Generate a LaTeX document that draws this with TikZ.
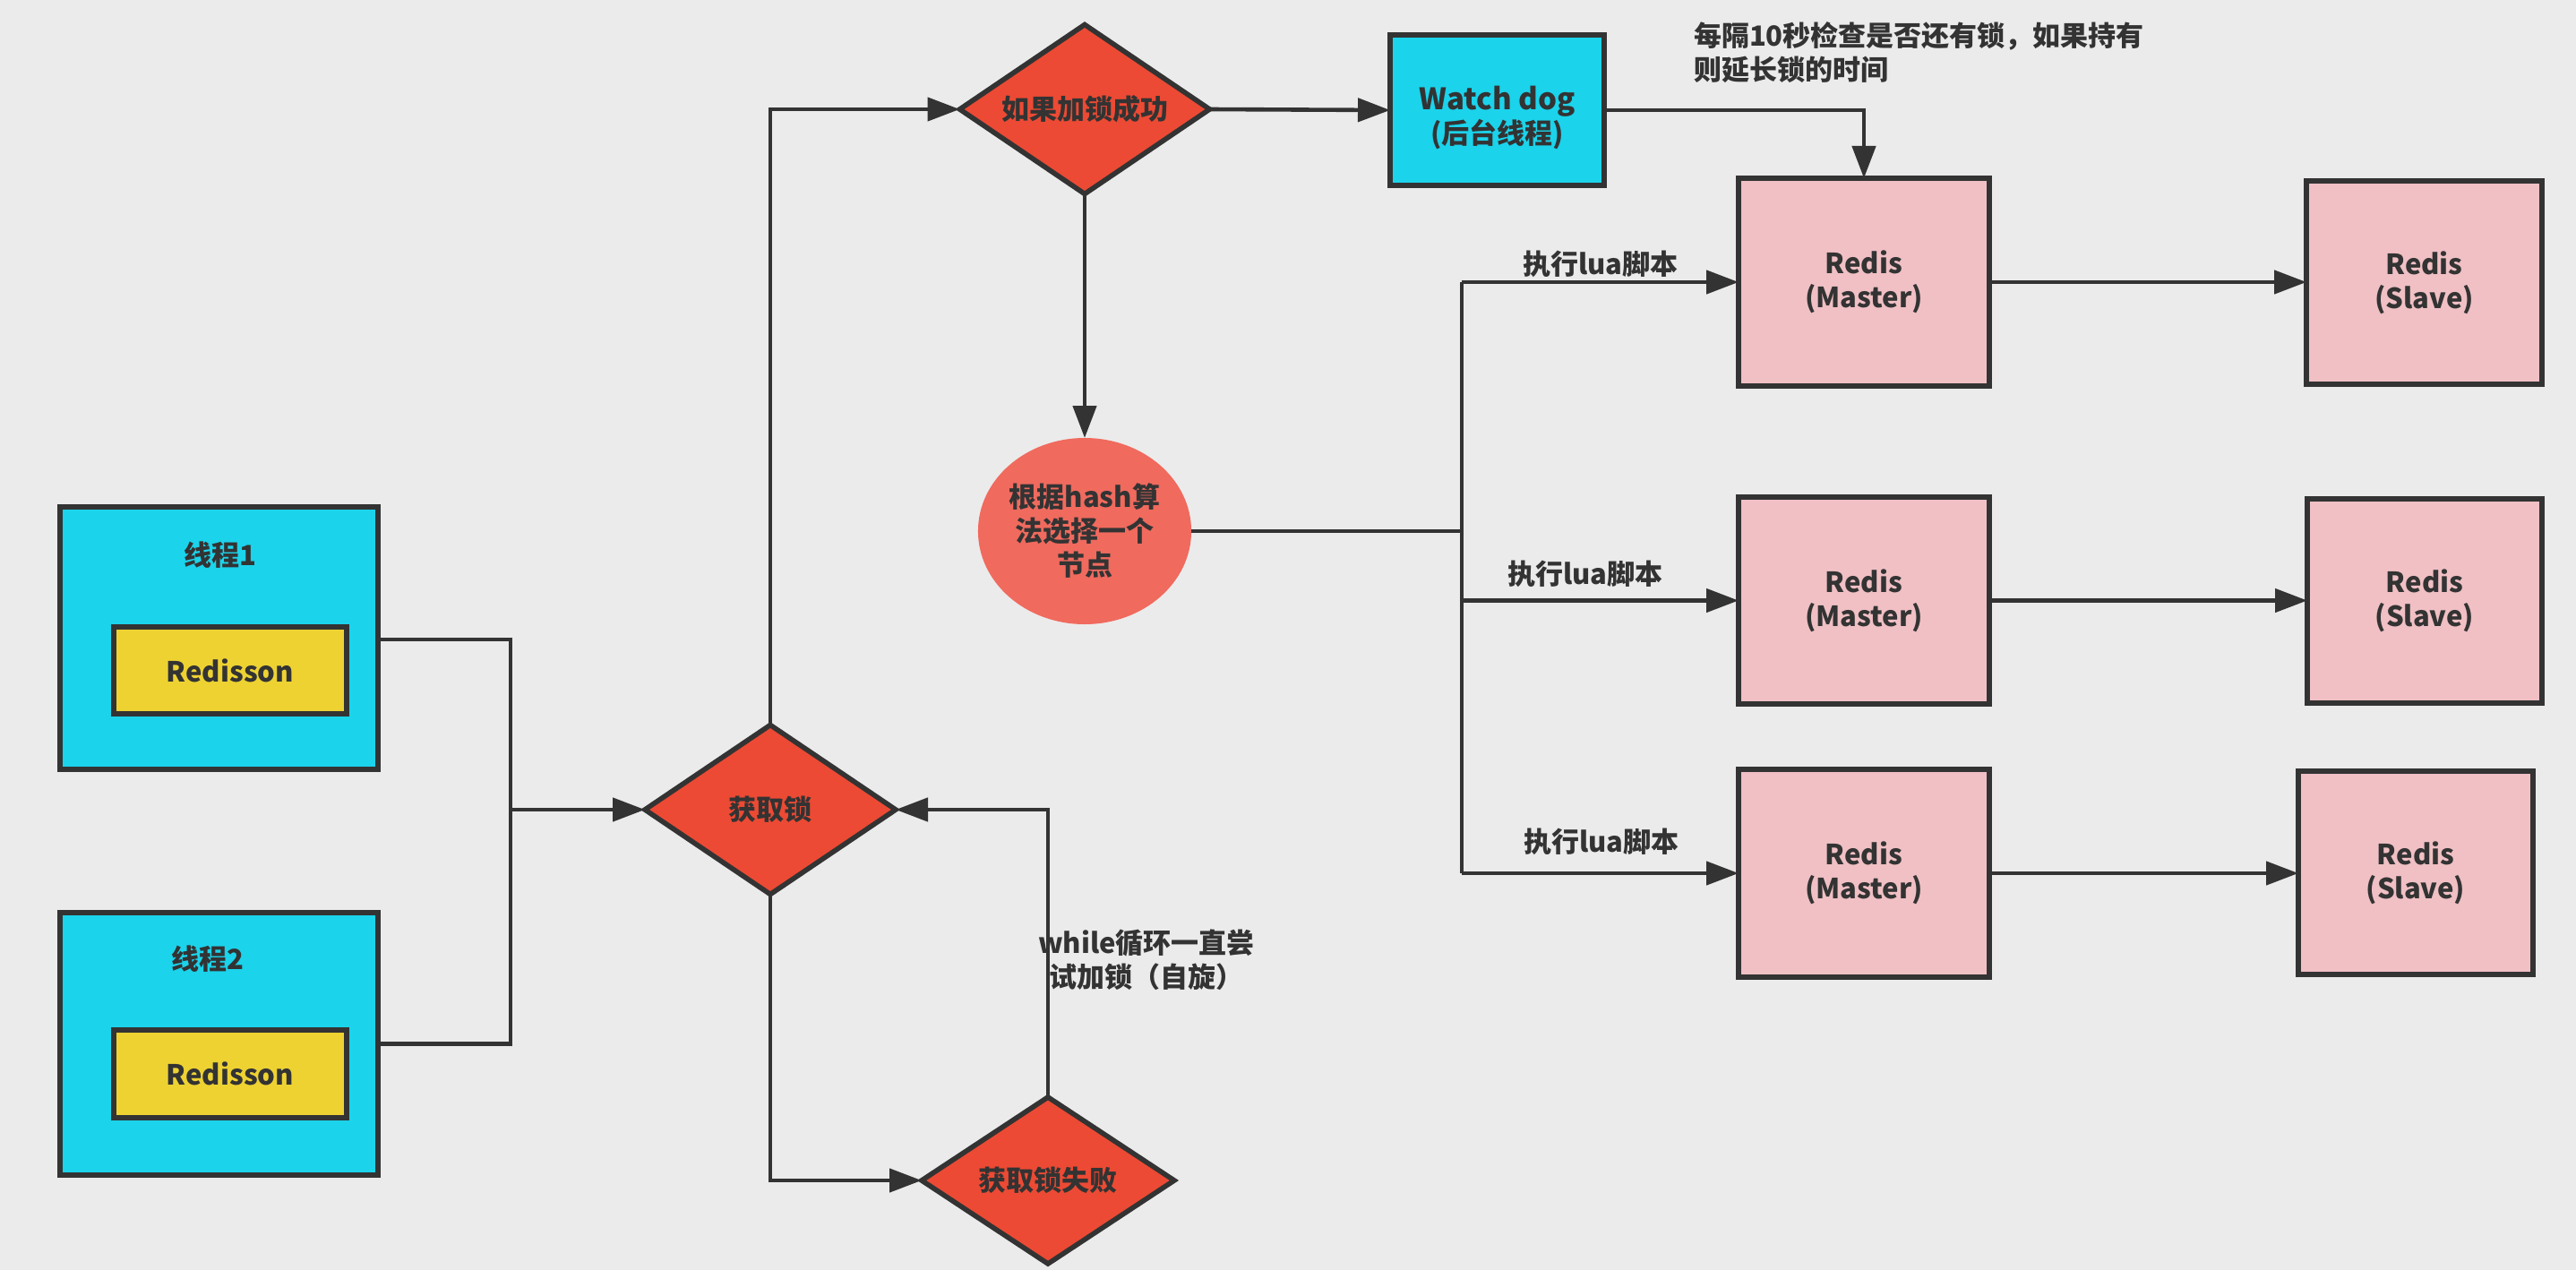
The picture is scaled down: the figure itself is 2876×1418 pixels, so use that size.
\documentclass[tikz,border=0pt]{standalone}
\usepackage{fontspec}
\setmainfont{Noto Sans CJK SC}
\usetikzlibrary{shapes.geometric,arrows.meta}
\definecolor{bgc}{HTML}{EBEBEB}
\definecolor{cyanc}{HTML}{1BD3EB}
\definecolor{yelc}{HTML}{EDD232}
\definecolor{redc}{HTML}{EC4A34}
\definecolor{circc}{HTML}{F06A5E}
\definecolor{pinkc}{HTML}{F0C0C4}
\definecolor{linec}{HTML}{333333}
\definecolor{txtc}{HTML}{333333}
\tikzset{
  base/.style={font=\fontsize{15.5pt}{19pt}\selectfont\bfseries, text=txtc, inner sep=0pt, outer sep=0pt, align=center},
  box/.style={base, rectangle, draw=linec, line width=2.8pt},
  thread/.style={box, fill=cyanc},
  lib/.style={box, fill=yelc},
  dia/.style={base, diamond, shape aspect=1.48, draw=linec, line width=2.8pt, fill=redc},
  redis/.style={box, fill=pinkc},
  hashc/.style={base, ellipse, fill=circc},
  lbl/.style={base},
  conn/.style={draw=linec, line width=2.3pt},
  arr/.style={conn, -{Triangle[length=18pt,width=13pt]}},
}
\begin{document}
\begin{tikzpicture}[x=0.5pt,y=-0.5pt]
\fill[bgc] (0,0) rectangle (2876,1418);
\useasboundingbox (0,0) rectangle (2876,1418);

% threads
\node[thread, minimum width=177.5pt, minimum height=146.5pt] (t1) at (244.5,712.5) {};
\node[lib, minimum width=130pt, minimum height=48.5pt] (r1) at (257,748.5) {Redisson};
\node[lbl] (l1) at (246,620) {线程1};
\node[thread, minimum width=177.5pt, minimum height=146.5pt] (t2) at (244.5,1165.5) {};
\node[lib, minimum width=130pt, minimum height=49pt] (r2) at (257,1199) {Redisson};
\node[lbl] (l2) at (232,1071) {线程2};

% diamonds
\node[dia, minimum width=140pt, minimum height=94.5pt] (get) at (860,904) {获取锁};
\node[dia, minimum width=139.5pt, minimum height=94.5pt] (ok) at (1211,122) {如果加锁成功};
\node[dia, minimum width=141pt, minimum height=93pt] (fail) at (1170,1318) {获取锁失败};

% watch dog
\node[box, fill=cyanc, minimum width=119.5pt, minimum height=84pt] (wd) at (1671.5,123) {};
\node[lbl] (wdt) at (1671.5,131) {\fontsize{16.5pt}{19pt}\selectfont Watch dog\\(后台线程)};
\node[lbl, anchor=west, align=left] (note) at (1891,59) {每隔10秒检查是否还有锁，如果持有\\则延长锁的时间};

% hash circle
\node[hashc, minimum width=114pt, minimum height=104pt] (hash) at (1211,593) {根据hash算\\法选择一个\\节点};

% redis
\node[redis, minimum width=140pt, minimum height=116pt] (m1) at (2081,315) {Redis\\(Master)};
\node[redis, minimum width=140pt, minimum height=115.5pt] (m2) at (2081,670.5) {Redis\\(Master)};
\node[redis, minimum width=140pt, minimum height=116pt] (m3) at (2081,975) {Redis\\(Master)};
\node[redis, minimum width=131.5pt, minimum height=113.5pt] (s1) at (2706.5,315.5) {Redis\\(Slave)};
\node[redis, minimum width=131pt, minimum height=114pt] (s2) at (2707,671) {Redis\\(Slave)};
\node[redis, minimum width=131pt, minimum height=113.5pt] (s3) at (2697,974.5) {Redis\\(Slave)};

% coordinates
\coordinate (jn) at (570,904);
\coordinate (bus1) at (1632,315);
\coordinate (bus2) at (1632,670.5);
\coordinate (bus3) at (1632,975);
\coordinate (busm) at (1632,593);

% connectors
\draw[conn] (t1.east |- 0,714) -| (jn);
\draw[conn] (t2.east) -| (jn);
\draw[arr] (jn) -- (get.west);
\draw[arr] (get.north) |- (ok.west);
\draw[arr] (ok.east) -- (wd.west);
\draw[arr] (wd.east) -| (m1.north);
\draw[arr] (ok.south) -- (hash.north);
\draw[conn] (hash.east) -- (busm);
\draw[conn] (bus1) -- (bus3);
\draw[arr] (bus1) -- (m1.west);
\draw[arr] (bus2) -- (m2.west);
\draw[arr] (bus3) -- (m3.west);
\draw[arr] (m1.east) -- (m1.east -| s1.west);
\draw[arr] (m2.east) -- (m2.east -| s2.west);
\draw[arr] (m3.east) -- (m3.east -| s3.west);
\draw[arr] (get.south) |- (fail.west);
\draw[arr] (fail.north) |- (get.east);

% labels
\node[lbl] (e1) at (1787,295) {执行lua脚本};
\node[lbl] (e2) at (1770,641) {执行lua脚本};
\node[lbl] (e3) at (1788,940) {执行lua脚本};
\node[lbl] (loop) at (1280,1072) {while循环一直尝\\试加锁（自旋）};
\end{tikzpicture}
\end{document}
